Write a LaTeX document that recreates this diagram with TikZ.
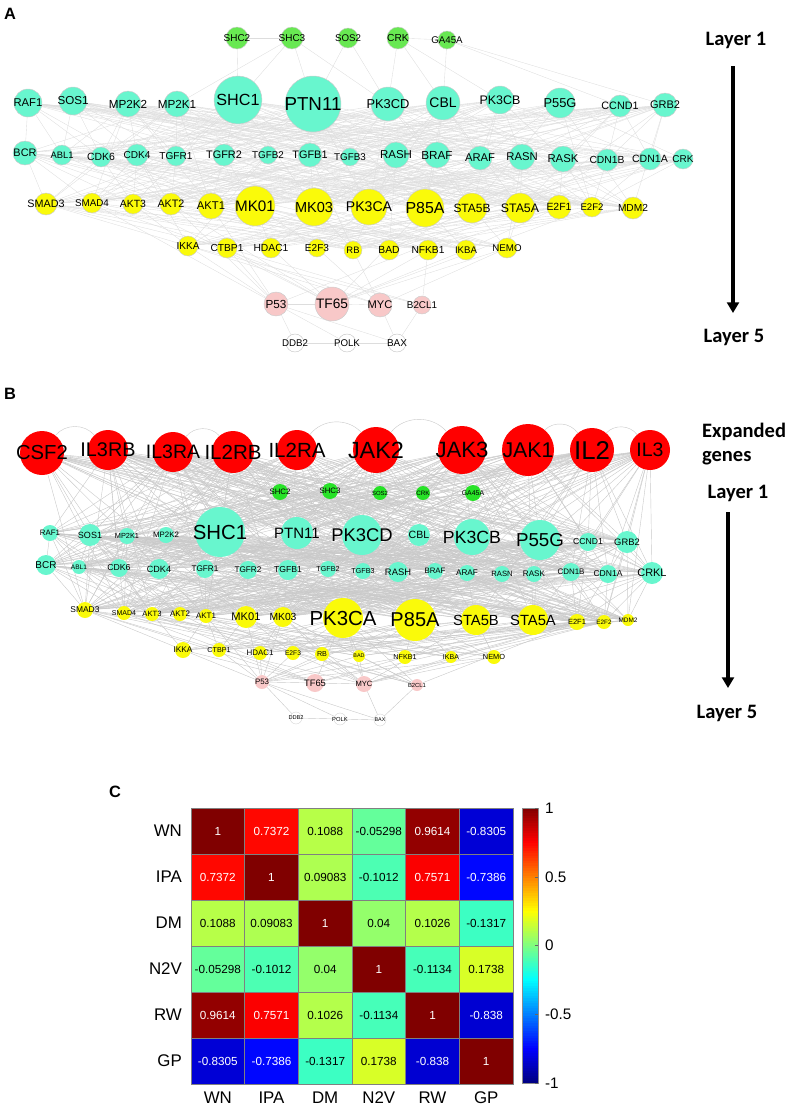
\documentclass[tikz,border=0pt]{standalone}
\usepackage{fontspec}
\setmainfont{Liberation Sans}
\newfontfamily\layerfont{Carlito}
\usepackage{tikz}
\usetikzlibrary{arrows.meta,positioning,backgrounds,calc}

\definecolor{grnA}{RGB}{104,232,82}
\definecolor{grnB}{RGB}{40,226,40}
\definecolor{turq}{RGB}{104,246,206}
\definecolor{yell}{RGB}{250,250,10}
\definecolor{pink}{RGB}{248,200,200}
\definecolor{redB}{RGB}{255,0,0}

\begin{document}
\begin{tikzpicture}[x=0.03cm,y=-0.03cm,
gnA/.style={circle, inner sep=0pt, fill=grnA, draw=gray!40, line width=0.4pt},
tqA/.style={circle, inner sep=0pt, fill=turq, draw=gray!40, line width=0.4pt},
ylA/.style={circle, inner sep=0pt, fill=yell, draw=gray!40, line width=0.4pt},
pkA/.style={circle, inner sep=0pt, fill=pink, draw=gray!40, line width=0.4pt},
whA/.style={circle, inner sep=0pt, fill=white, draw=gray!45, line width=0.4pt},
rdB/.style={circle, inner sep=0pt, fill=redB},
gnB/.style={circle, inner sep=0pt, fill=grnB},
tqB/.style={circle, inner sep=0pt, fill=turq},
ylB/.style={circle, inner sep=0pt, fill=yell},
pkB/.style={circle, inner sep=0pt, fill=pink},
whB/.style={circle, inner sep=0pt, fill=white, draw=gray!35, line width=0.3pt},
lnkA/.style={draw=gray!27, line width=0.3pt},
lnkB/.style={draw=gray!42, line width=0.35pt},
panel/.style={font=\bfseries\fontsize{14}{14}\selectfont},
layer/.style={font=\layerfont\bfseries\fontsize{17.5}{18}\selectfont},
lyarr/.style={line width=2.6pt, -{Triangle[length=9pt,width=10pt]}},
cell/.style={draw=black!50, line width=0.4pt},
cellnum/.style={font=\fontsize{10}{10}\selectfont},
axlbl/.style={font=\fontsize{14.4}{14.4}\selectfont},
ticklbl/.style={font=\fontsize{13}{13}\selectfont, anchor=west}
]
\useasboundingbox (0,0) rectangle (787,1109);
\pgfmathsetseed{1234}
\def\gn(#1:#2:#3:#4:#5:#6){\node[#1, minimum size={#4*1.707pt},
  label={[font=\fontsize{#5}{#5}\selectfont]center:#6}] (\pfx#6) at (#2,#3) {}}
\def\linkrows#1#2#3#4{\foreach \u in #1 {\foreach \v in #2 {
  \pgfmathtruncatemacro\keep{rnd<#3}
  \ifnum\keep=1 \draw[#4] (\pfx\u) -- (\pfx\v);\fi}}}
\def\hc(#1:#2:#3){
  \pgfmathsetmacro\tv{(#3+1)/2}
  \pgfmathsetmacro\jr{max(0,min(1,1.5-abs(4*\tv-3)))}
  \pgfmathsetmacro\jg{max(0,min(1,1.5-abs(4*\tv-2)))}
  \pgfmathsetmacro\jb{max(0,min(1,1.5-abs(4*\tv-1)))}
  \definecolor{hcf}{rgb}{\jr,\jg,\jb}
  \pgfmathtruncatemacro\dark{abs(#3)>0.5}
  \ifnum\dark=1 \def\tc{white}\else\def\tc{black}\fi
  \filldraw[cell, fill=hcf] ({191+(#2-1)*53.67},{808+(#1-1)*46}) rectangle +(53.67,46);
  \node[cellnum, text=\tc] (cell#1#2) at ({191+(#2-0.5)*53.67},{808+(#1-0.5)*46}) {#3}}

% ---------------- panel A
\node[panel] (labA) at (10,14) {A};
\def\pfx{a}
\gn(gnA:237:38:11:8.5:SHC2);\gn(gnA:292:38:11:8.5:SHC3);\gn(gnA:348:38:10:8.3:SOS2);\gn(gnA:398:38:11:8.7:CRK);\gn(gnA:447:40:9:8.3:GA45A);
\gn(tqA:28:103:14:9.6:RAF1);\gn(tqA:73:101:14:9.9:SOS1);\gn(tqA:128:104:13:10:MP2K2);\gn(tqA:177:104:13:10:MP2K1);
\gn(tqA:238:100:24:13.8:SHC1);\gn(tqA:313:104:28:16:PTN11);\gn(tqA:388:104:17:11:PK3CD);\gn(tqA:443:103:17:11.9:CBL);
\gn(tqA:500:100:14:10.6:PK3CB);\gn(tqA:560:103:15:11:P55G);\gn(tqA:620:106:11:9.2:CCND1);\gn(tqA:665:105:12:9.4:GRB2);
\gn(tqA:25:153:12:9.3:BCR);\gn(tqA:62:155:10:8:ABL1);\gn(tqA:101:157:10:8.9:CDK6);\gn(tqA:137:155:11:8.6:CDK4);
\gn(tqA:176:156:10:8.6:TGFR1);\gn(tqA:224:155:11:9.3:TGFR2);\gn(tqA:268:155:9:8.4:TGFB2);\gn(tqA:310:155:12:9.3:TGFB1);
\gn(tqA:350:157:9:8.4:TGFB3);\gn(tqA:396:155:13:9.8:RASH);\gn(tqA:437:155:13:10:BRAF);\gn(tqA:480:158:12:9.6:ARAF);
\gn(tqA:522:157:13:9.6:RASN);\gn(tqA:563:159:13:9.7:RASK);\gn(tqA:607:160:11:8.8:CDN1B);\gn(tqA:650:159:11:9:CDN1A);
\node[tqA, minimum size={10*1.707pt}, label={[font=\fontsize{8.5}{8.5}\selectfont]center:CRK}] (aCRKc) at (683,159) {};
\gn(ylA:46:204:11:9.2:SMAD3);\gn(ylA:92:203:10:8.4:SMAD4);\gn(ylA:133:204:10:8.9:AKT3);\gn(ylA:171:204:11:9.2:AKT2);
\gn(ylA:211:206:13:9.6:AKT1);\gn(ylA:255:206:20:13:MK01);\gn(ylA:314:207:19:12.4:MK03);\gn(ylA:369:207:18:12:PK3CA);
\gn(ylA:425:208:19:13.6:P85A);\gn(ylA:472:208:15:10.2:STA5B);\gn(ylA:520:208:15:10.5:STA5A);\gn(ylA:559:207:12:8.9:E2F1);
\gn(ylA:592:207:10:8.2:E2F2);\gn(ylA:633:208:11:8.7:MDM2);
\gn(ylA:188:246:10:8.6:IKKA);\gn(ylA:227:248:10:8.7:CTBP1);\gn(ylA:271:248:10:8.8:HDAC1);\gn(ylA:317:248:9:8.6:E2F3);
\gn(ylA:353:250:9:8:RB);\gn(ylA:389:250:10:8.8:BAD);\gn(ylA:428:250:10:8.7:NFKB1);\gn(ylA:466:250:10:8.2:IKBA);\gn(ylA:507:248:10:8.3:NEMO);
\gn(pkA:276:304:12:10:P53);\gn(pkA:332:304:17:11.7:TF65);\gn(pkA:380:305:12:9.5:MYC);\gn(pkA:422:305:9:8.4:B2CL1);
\gn(whA:295:343:9:8.3:DDB2);\gn(whA:347:343:9:8.3:POLK);\gn(whA:397:343:9:8.5:BAX);
\def\aRowII{RAF1,SOS1,MP2K2,MP2K1,SHC1,PTN11,PK3CD,CBL,PK3CB,P55G,CCND1,GRB2}
\def\aRowIII{BCR,ABL1,CDK6,CDK4,TGFR1,TGFR2,TGFB2,TGFB1,TGFB3,RASH,BRAF,ARAF,RASN,RASK,CDN1B,CDN1A,CRKc}
\def\aRowIV{SMAD3,SMAD4,AKT3,AKT2,AKT1,MK01,MK03,PK3CA,P85A,STA5B,STA5A,E2F1,E2F2,MDM2}
\def\aRowV{IKKA,CTBP1,HDAC1,E2F3,RB,BAD,NFKB1,IKBA,NEMO}
\def\aRowVI{P53,TF65,MYC,B2CL1}
\begin{pgfonlayer}{background}
\foreach \u/\v in {SHC2/SHC1,SHC3/SHC1,SHC3/MP2K1,SHC3/PK3CD,SHC2/SHC3,SOS2/PK3CD,SOS2/PTN11,SHC3/PTN11,
  CRK/PK3CD,CRK/CBL,CRK/PK3CB,GA45A/CBL,GA45A/CCND1,GA45A/GRB2,CRK/GA45A}
  \draw[lnkA] (a\u) -- (a\v);
\linkrows\aRowII\aRowIII{0.6}{lnkA}
\linkrows\aRowIII\aRowIV{0.55}{lnkA}
\linkrows\aRowII\aRowIV{0.35}{lnkA}
\linkrows\aRowIV\aRowV{0.45}{lnkA}
\linkrows\aRowIII\aRowV{0.15}{lnkA}
\linkrows\aRowV\aRowVI{0.5}{lnkA}
\linkrows\aRowIV\aRowVI{0.2}{lnkA}
\foreach \u/\v in {P53/DDB2,P53/POLK,DDB2/POLK,POLK/BAX,MYC/BAX,B2CL1/BAX,P53/BAX,TF65/MYC,P53/TF65}
  \draw[lnkA] (a\u) -- (a\v);
\end{pgfonlayer}
% layer arrow
\node[layer] (aL1) at (736,40) {Layer 1};
\node[layer] (aL5) at (734,337) {Layer 5};
\coordinate (aArT) at (733,66); \coordinate (aArB) at (733,313);
\draw[lyarr] (aArT) -- (aArB);

% ---------------- panel B
\node[panel] (labB) at (10,394) {B};
\def\pfx{b}
\gn(rdB:42:453:22:17.3:CSF2);\gn(rdB:108:450:20:16.9:IL3RB);\gn(rdB:173:452:20:16.6:IL3RA);\gn(rdB:233:452:21:17.5:IL2RB);
\gn(rdB:297:450:20:17.5:IL2RA);\gn(rdB:376:450:23:20:JAK2);\gn(rdB:462:450:24:18.9:JAK3);\gn(rdB:528:450:26:18.2:JAK1);
\gn(rdB:592:450:22:22:IL2);\gn(rdB:650:450:20:16.6:IL3);
\gn(gnB:280:492:8:6.7:SHC2);\gn(gnB:330:491:8:6.7:SHC3);\gn(gnB:380:493:7:5.1:SOS2);\gn(gnB:423:493:7:5.4:CRK);\gn(gnB:473:493:8:5.9:GA45A);
\gn(tqB:50:533:8:6.7:RAF1);\gn(tqB:90:535:11:7.7:SOS1);\gn(tqB:127:536:8:6.3:MP2K1);\gn(tqB:166:535:8:6.7:MP2K2);
\gn(tqB:220:532:25:17.4:SHC1);\gn(tqB:297:533:16:12.8:PTN11);\gn(tqB:362:535:20:15.7:PK3CD);\gn(tqB:419:535:11:9:CBL);
\gn(tqB:472:537:18:15.1:PK3CB);\gn(tqB:540:540:20:16:P55G);\gn(tqB:588:542:9:7.4:CCND1);\gn(tqB:627:542:11:8:GRB2);
\gn(tqB:46:565:10:8.5:BCR);\gn(tqB:79:567:7:5.6:ABL1);\gn(tqB:119:568:9:7.4:CDK6);\gn(tqB:159:569:10:7.7:CDK4);
\gn(tqB:205:569:9:7:TGFR1);\gn(tqB:248:570:9:7:TGFR2);\gn(tqB:288:570:10:7.4:TGFB1);\gn(tqB:328:569:8:6.1:TGFB2);
\gn(tqB:363:571:8:6.1:TGFB3);\gn(tqB:398:572:10:8:RASH);\gn(tqB:435:571:8:6.7:BRAF);\gn(tqB:467:573:8:7:ARAF);
\gn(tqB:502:574:8:6.5:RASN);\gn(tqB:534:574:8:6.9:RASK);\gn(tqB:571:572:9:6.8:CDN1B);\gn(tqB:608:574:9:7.3:CDN1A);
\gn(tqB:652:573:11:9.3:CRKL);
\gn(ylB:85:610:8:7.2:SMAD3);\gn(ylB:124:613:7:6:SMAD4);\gn(ylB:152:614:7:6.5:AKT3);\gn(ylB:180:614:7:6.8:AKT2);
\gn(ylB:206:616:7:6.8:AKT1);\gn(ylB:246:617:11:9.5:MK01);\gn(ylB:283:617:10:8.8:MK03);\gn(ylB:343:618:20:17.4:PK3CA);
\gn(ylB:415:620:21:17.1:P85A);\gn(ylB:476:620:15:12.6:STA5B);\gn(ylB:533:620:15:12.6:STA5A);\gn(ylB:577:622:8:6.4:E2F1);
\gn(ylB:604:622:7:5.4:E2F2);\gn(ylB:628:620:6:5.5:MDM2);
\gn(ylB:183:650:8:7.1:IKKA);\gn(ylB:219:650:7:6.1:CTBP1);\gn(ylB:260:653:7:6.8:HDAC1);\gn(ylB:293:653:7:5.7:E2F3);
\gn(ylB:322:654:7:6.1:RB);\gn(ylB:359:656:6:4.6:BAD);\gn(ylB:405:657:7:6.1:NFKB1);\gn(ylB:451:657:6:6:IKBA);\gn(ylB:494:657:7:6.3:NEMO);
\gn(pkB:262:682:7:6.7:P53);\gn(pkB:315:683:9:8:TF65);\gn(pkB:364:684:8:6.5:MYC);\gn(pkB:417:685:6:5:B2CL1);
\gn(whB:296:718:6:4.8:DDB2);\gn(whB:340:719:6:5:POLK);\gn(whB:380:720:6:4.6:BAX);
\def\bRowO{CSF2,IL3RB,IL3RA,IL2RB,IL2RA,JAK2,JAK3,JAK1,IL2,IL3}
\def\bRowI{SHC2,SHC3,SOS2,CRK,GA45A}
\def\bRowII{RAF1,SOS1,MP2K1,MP2K2,SHC1,PTN11,PK3CD,CBL,PK3CB,P55G,CCND1,GRB2}
\def\bRowIII{BCR,ABL1,CDK6,CDK4,TGFR1,TGFR2,TGFB1,TGFB2,TGFB3,RASH,BRAF,ARAF,RASN,RASK,CDN1B,CDN1A,CRKL}
\def\bRowIV{SMAD3,SMAD4,AKT3,AKT2,AKT1,MK01,MK03,PK3CA,P85A,STA5B,STA5A,E2F1,E2F2,MDM2}
\def\bRowV{IKKA,CTBP1,HDAC1,E2F3,RB,BAD,NFKB1,IKBA,NEMO}
\def\bRowVI{P53,TF65,MYC,B2CL1}
\begin{pgfonlayer}{background}
\foreach \u/\v in {CSF2/IL3RB,IL2RA/JAK2,JAK2/JAK3,IL2/IL3,JAK1/IL2,IL3RA/IL2RB}
  \draw[lnkB] (b\u) to[bend left=50] (b\v);
\linkrows\bRowO\bRowI{0.35}{lnkB}
\linkrows\bRowO\bRowII{0.7}{lnkB}
\linkrows\bRowO\bRowIII{0.6}{lnkB}
\linkrows\bRowO\bRowIV{0.45}{lnkB}
\linkrows\bRowI\bRowII{0.45}{lnkB}
\linkrows\bRowII\bRowIII{0.65}{lnkB}
\linkrows\bRowIII\bRowIV{0.65}{lnkB}
\linkrows\bRowII\bRowIV{0.45}{lnkB}
\linkrows\bRowIV\bRowV{0.55}{lnkB}
\linkrows\bRowV\bRowVI{0.6}{lnkB}
\linkrows\bRowIV\bRowVI{0.3}{lnkB}
\foreach \u/\v in {P53/DDB2,P53/POLK,DDB2/POLK,POLK/BAX,MYC/BAX,B2CL1/BAX,P53/BAX,TF65/MYC,P53/TF65}
  \draw[lnkB] (b\u) -- (b\v);
\end{pgfonlayer}
\node[layer, anchor=west] (bEx) at (698,432) {Expanded};
\node[layer, anchor=west] (bGn) at (698,458) {genes};
\node[layer] (bL1) at (738,493) {Layer 1};
\node[layer] (bL5) at (727,713) {Layer 5};
\coordinate (bArT) at (728,512); \coordinate (bArB) at (728,688);
\draw[lyarr] (bArT) -- (bArB);

% ---------------- panel C
\node[panel] (labC) at (115,792) {C};
\foreach \row [count=\i] in {{1,0.7372,0.1088,-0.05298,0.9614,-0.8305},
  {0.7372,1,0.09083,-0.1012,0.7571,-0.7386},
  {0.1088,0.09083,1,0.04,0.1026,-0.1317},
  {-0.05298,-0.1012,0.04,1,-0.1134,0.1738},
  {0.9614,0.7571,0.1026,-0.1134,1,-0.838},
  {-0.8305,-0.7386,-0.1317,0.1738,-0.838,1}}
  {\foreach \v [count=\j] in \row {\hc(\i:\j:\v);}}
\foreach \lb [count=\i] in {WN,IPA,DM,N2V,RW,GP}{
  \node[axlbl, anchor=east] (r\lb) at (186,{808+(\i-0.5)*46}) {\lb};
  \node[axlbl] (c\lb) at ({191+(\i-0.5)*53.67},1098) {\lb};
}
% colour bar
\foreach \k in {0,...,109}{
  \pgfmathsetmacro\tv{(\k+0.5)/110}
  \pgfmathsetmacro\jr{max(0,min(1,1.5-abs(4*\tv-3)))}
  \pgfmathsetmacro\jg{max(0,min(1,1.5-abs(4*\tv-2)))}
  \pgfmathsetmacro\jb{max(0,min(1,1.5-abs(4*\tv-1)))}
  \definecolor{hcf}{rgb}{\jr,\jg,\jb}
  \fill[hcf] (522,{1083-\k*2.5}) rectangle (538,{1083-(\k+1)*2.5-0.4});
}
\draw[black!45, line width=0.5pt] (522,808) rectangle (538,1083);
\foreach \tk [count=\n] in {1,0.5,0,-0.5,-1}{
  \draw[black!60] (538,{945.5-\tk*137.5}) -- ++(-3,0);
  \node[ticklbl] (tick\n) at (541,{945.5-\tk*137.5}) {\tk};
}
\end{tikzpicture}
\end{document}
